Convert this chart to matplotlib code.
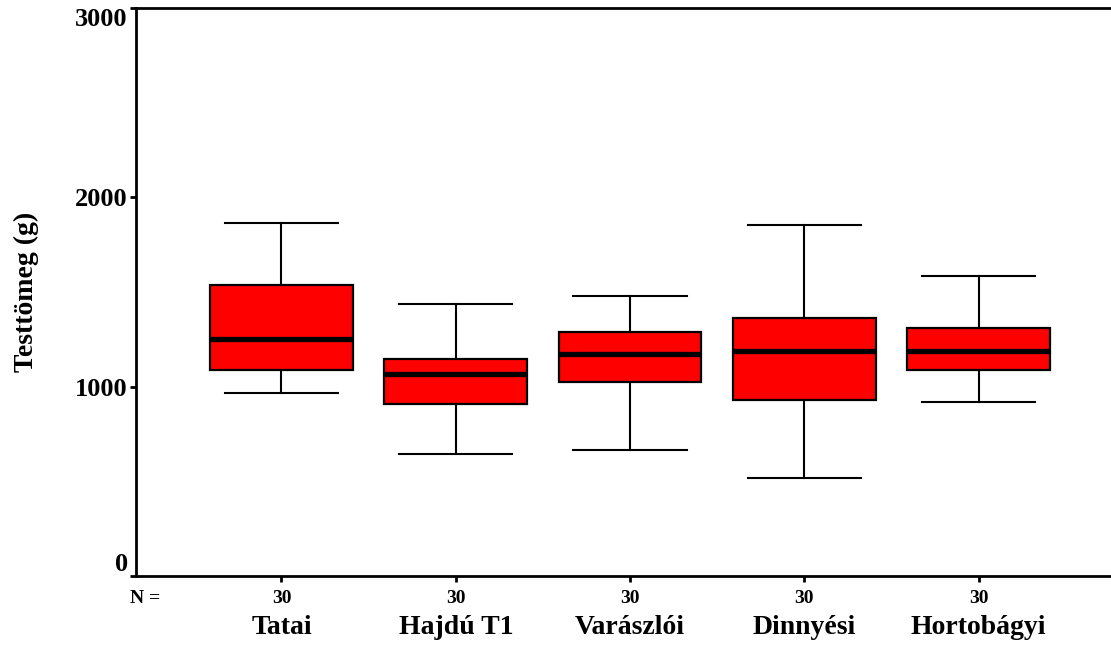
import matplotlib.pyplot as plt

# values (grams)
groups = ["Tatai", "Hajdú T1", "Varászlói", "Dinnyési", "Hortobágyi"]
counts = [30, 30, 30, 30, 30]
whisker_low = [967, 644, 666, 518, 919]
q1 = [1088, 908, 1025, 930, 1088]
medians = [1252, 1067, 1173, 1188, 1188]
q3 = [1537, 1146, 1289, 1363, 1310]
whisker_high = [1865, 1437, 1479, 1854, 1585]
y_ticks = [0, 1000, 2000, 3000]

font = {"family": "Liberation Serif", "weight": "bold"}

fig = plt.figure(figsize=(11.11, 6.45), dpi=100)
ax = fig.add_axes([0.1224, 0.107, 0.8776, 0.8805])

stats = []
for i, name in enumerate(groups):
    stats.append({
        "label": name,
        "whislo": whisker_low[i],
        "q1": q1[i],
        "med": medians[i],
        "q3": q3[i],
        "whishi": whisker_high[i],
        "fliers": [],
    })

positions = list(range(1, len(groups) + 1))
ax.bxp(
    stats, positions=positions, widths=0.82, patch_artist=True,
    showfliers=False, capwidths=0.65,
    boxprops=dict(facecolor="#ff0000", edgecolor="black", linewidth=1.6),
    medianprops=dict(color="black", linewidth=3.8, solid_capstyle="butt"),
    whiskerprops=dict(color="black", linewidth=1.5),
    capprops=dict(color="black", linewidth=1.5),
)

ax.set_xlim(0.165, 5.76)
ax.set_ylim(0, 3000)

ax.spines["right"].set_visible(False)
for side in ["left", "top", "bottom"]:
    ax.spines[side].set_linewidth(2)

ax.set_yticks(y_ticks)
ylabels = ax.set_yticklabels([str(t) for t in y_ticks], fontsize=19, **font)
# first and last labels sit inside the axis range, as in the original
ylabels[0].set_verticalalignment("bottom")
ylabels[-1].set_verticalalignment("top")
ax.set_xticks(positions)
ax.set_xticklabels([str(c) for c in counts], fontsize=14, **font)
ax.tick_params(axis="both", length=4, width=2, direction="out", pad=6)
ax.tick_params(axis="y", pad=2)

for pos, name in zip(positions, groups):
    ax.text(pos, -0.068, name, transform=ax.get_xaxis_transform(),
            ha="center", va="top", fontsize=20, **font)
ax.text(0.22, -0.024, "N =", transform=ax.get_xaxis_transform(),
        ha="center", va="top", fontsize=14, **font)

ax.set_ylabel("Testtömeg (g)", fontsize=20, labelpad=26, **font)

fig.savefig("out.png", dpi=100)
